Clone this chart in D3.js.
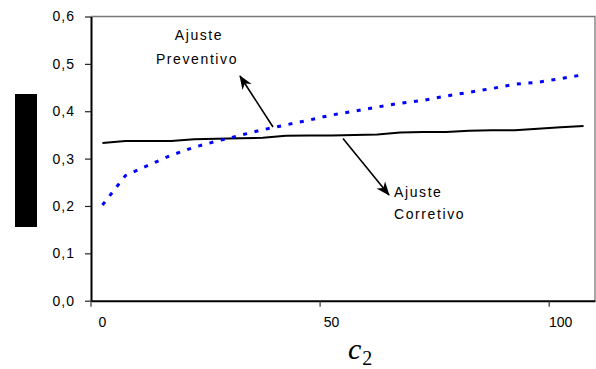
<!DOCTYPE html>
<html>
<head>
<meta charset="utf-8">
<script src="https://cdn.jsdelivr.net/npm/d3@7"></script>
<style>
  html, body { margin: 0; padding: 0; background: #fff; }
  svg { display: block; }
  text { font-family: "Liberation Sans", Arial, sans-serif; fill: #000; }
</style>
</head>
<body>
<svg id="chart" width="596" height="369"></svg>
<script>
// c2 categories (step 5)
const c2Values = d3.range(0, 110, 5);
// Ajuste Preventivo (blue dotted)
const preventivo = [0.202, 0.264, 0.286, 0.307, 0.324, 0.337, 0.349, 0.361, 0.371, 0.381, 0.392,
                    0.400, 0.409, 0.417, 0.423, 0.432, 0.440, 0.448, 0.457, 0.461, 0.469, 0.477];
// Ajuste Corretivo (black solid)
const corretivo = [0.333, 0.337, 0.337, 0.337, 0.341, 0.342, 0.343, 0.344, 0.348, 0.349, 0.349,
                   0.350, 0.351, 0.355, 0.356, 0.356, 0.359, 0.360, 0.360, 0.363, 0.366, 0.369];
const xTickValues = [0, 50, 100];
const yTickValues = [0, 0.1, 0.2, 0.3, 0.4, 0.5, 0.6];

const svg = d3.select("#chart");
const plot = { left: 91, right: 595, top: 16.5, bottom: 300.7 };

const x = d3.scaleBand().domain(c2Values).range([plot.left, plot.right]).padding(0);
const xc = v => x(v) + x.bandwidth() / 2;
const y = d3.scaleLinear().domain([0, 0.6]).range([plot.bottom, plot.top]);

const ptBR = d3.formatLocale({ decimal: ",", thousands: ".", grouping: [3], currency: ["", ""] });
const fmt = ptBR.format(".1f");

// top and right frame lines
svg.append("path")
  .attr("d", `M${plot.left},${plot.top}H${plot.right}V${plot.bottom}`)
  .attr("fill", "none").attr("stroke", "#777").attr("stroke-width", 1.3);

// y axis
const yAxis = svg.append("g")
  .attr("transform", `translate(${plot.left},0)`)
  .call(d3.axisLeft(y).tickValues(yTickValues).tickFormat(fmt).tickSize(6).tickPadding(10).tickSizeOuter(0));
yAxis.select(".domain").attr("stroke", "#000").attr("stroke-width", 2);
yAxis.selectAll(".tick line").attr("stroke", "#222").attr("stroke-width", 1.2);
yAxis.selectAll(".tick text")
  .style("font-family", '"Liberation Sans", Arial, sans-serif')
  .style("font-size", "14px").style("letter-spacing", "1px").attr("fill", "#000");

// x axis: ticks on category boundaries, labels on category centres
const xAxis = svg.append("g")
  .attr("transform", `translate(0,${plot.bottom})`)
  .call(d3.axisBottom(x).tickValues(xTickValues).tickSize(0).tickPadding(16).tickSizeOuter(0));
xAxis.select(".domain").attr("stroke", "#000").attr("stroke-width", 2);
xAxis.selectAll(".tick line")
  .attr("x1", -x.bandwidth() / 2).attr("x2", -x.bandwidth() / 2)
  .attr("y1", 0).attr("y2", 6)
  .attr("stroke", "#333").attr("stroke-width", 1.2);
xAxis.selectAll(".tick text")
  .style("font-family", '"Liberation Sans", Arial, sans-serif')
  .style("font-size", "14px").attr("fill", "#000");

// axis title c2
const xt = svg.append("text").attr("x", 348).attr("y", 359)
  .style("font-family", '"Liberation Serif", "Times New Roman", serif');
xt.append("tspan").style("font-style", "italic").style("font-size", "30px").text("c");
xt.append("tspan").attr("dy", 6).attr("dx", 1).style("font-size", "20px").text("2");

// y axis title box
svg.append("rect").attr("x", 15).attr("y", 94).attr("width", 22).attr("height", 133).attr("fill", "#000");

// series
const line = d3.line().x((d, i) => xc(c2Values[i])).y(d => y(d));

svg.append("path").datum(corretivo)
  .attr("d", line).attr("fill", "none").attr("stroke", "#000").attr("stroke-width", 2);

svg.append("path").datum(preventivo)
  .attr("d", line).attr("fill", "none").attr("stroke", "#0000ff")
  .attr("stroke-width", 3).attr("stroke-dasharray", "4,7.6");

// arrows
const defs = svg.append("defs");
defs.append("marker").attr("id", "arrow")
  .attr("viewBox", "0 -6 14 12").attr("refX", 13).attr("refY", 0)
  .attr("markerWidth", 14).attr("markerHeight", 12).attr("markerUnits", "userSpaceOnUse")
  .attr("orient", "auto")
  .append("path").attr("d", "M0,-5.5L14,0L0,5.5L4,0Z").attr("fill", "#000");

svg.append("line").attr("x1", 273).attr("y1", 127).attr("x2", 240).attr("y2", 76)
  .attr("stroke", "#000").attr("stroke-width", 1.6).attr("marker-end", "url(#arrow)");
svg.append("line").attr("x1", 343).attr("y1", 138.5).attr("x2", 389).attr("y2", 195)
  .attr("stroke", "#000").attr("stroke-width", 1.6).attr("marker-end", "url(#arrow)");

// annotations
const note = (tx, ty, anchor, txt) => svg.append("text")
  .attr("x", tx).attr("y", ty).attr("text-anchor", anchor)
  .style("font-size", "14px").style("letter-spacing", "1.6px").text(txt);
note(199, 40, "middle", "Ajuste");
note(197, 63.5, "middle", "Preventivo");
note(394, 196.5, "start", "Ajuste");
note(394, 218.5, "start", "Corretivo");
</script>
</body>
</html>
